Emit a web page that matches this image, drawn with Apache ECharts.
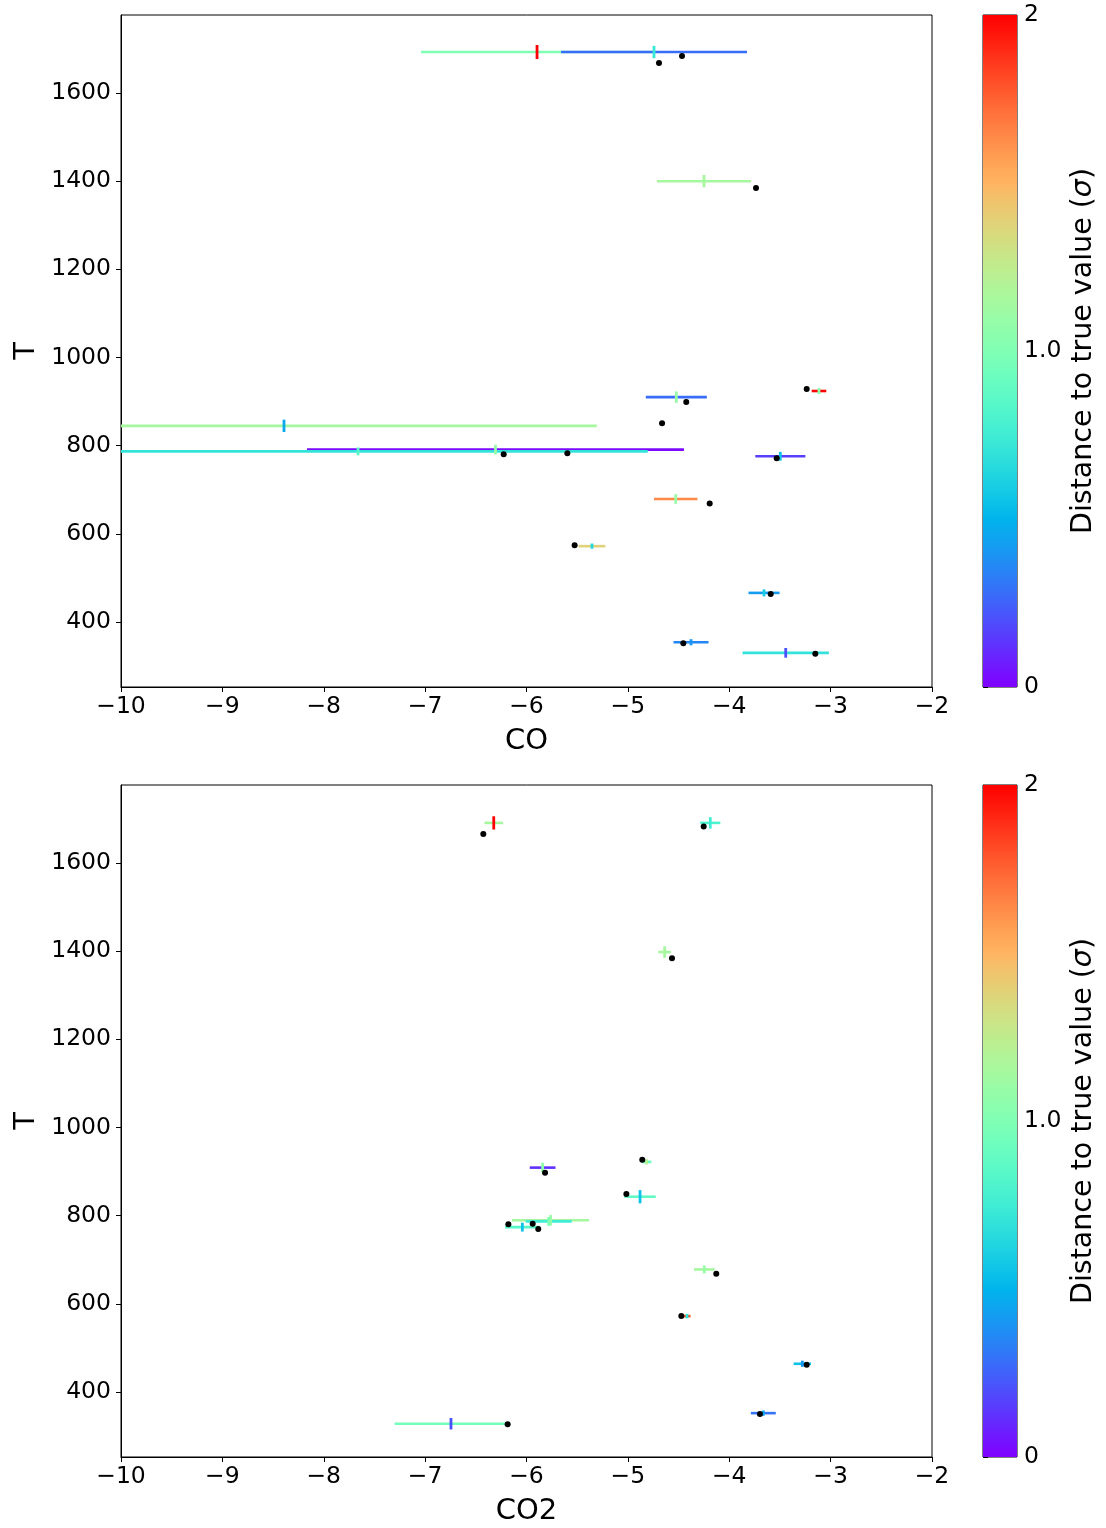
<!DOCTYPE html>
<html>
<head>
<meta charset="utf-8">
<script src="https://cdn.jsdelivr.net/npm/echarts@6/dist/echarts.min.js"></script>
<style>
html,body{margin:0;padding:0;background:#fff;}
#c{width:1106px;height:1528px;}
</style>
</head>
<body>
<div id="c"></div>
<script>
// ---------- data ----------
// CO panel
const coX      = [-5.896, -4.742, -4.249, -4.522, -3.115, -8.392, -6.306, -7.662, -3.496, -4.528, -5.354, -3.657, -4.377, -3.443];
const coXerr   = [1.144, 0.917, 0.464, 0.301, 0.072, 3.085, 1.859, 2.858, 0.247, 0.214, 0.132, 0.153, 0.173, 0.426];
const coT      = [1693, 1693, 1400, 910, 924, 845, 791, 787, 776, 679, 572, 466, 354, 330];
const coTerr   = [16, 14, 14, 13, 7, 14, 11, 9, 10, 11, 6, 8, 7, 11];
const coXDist  = [1.0, 0.28, 1.15, 0.28, 2.0, 1.15, 0.02, 0.7, 0.16, 1.64, 1.38, 0.42, 0.36, 0.7];
const coTDist  = [2.0, 0.72, 1.15, 1.1, 1.05, 0.46, 1.1, 0.85, 0.56, 1.1, 0.65, 0.6, 0.4, 0.2];
const coTrueX  = [-4.693, -4.466, -3.736, -4.424, -4.663, -3.236, -6.225, -5.597, -3.532, -4.193, -5.525, -3.591, -4.453, -3.151];
const coTrueT  = [1668, 1684, 1384.5, 899, 851, 928.5, 780.4, 782.7, 771.3, 669, 574, 463.5, 352, 328];

// CO2 panel
const co2X     = [-6.323, -4.187, -4.637, -5.841, -4.816, -4.880, -5.763, -5.781, -6.041, -4.246, -4.417, -3.279, -3.664, -6.745];
const co2Xerr  = [0.092, 0.099, 0.062, 0.127, 0.047, 0.155, 0.380, 0.227, 0.171, 0.102, 0.035, 0.086, 0.123, 0.556];
const co2T     = [1691, 1691, 1398, 909, 922, 843, 789.5, 787, 774, 678, 572, 464, 352, 328];
const co2Terr  = [15, 13, 13, 11, 6, 15, 12, 10, 10, 9, 5, 7, 6, 13];
const co2XDist = [1.15, 0.8, 1.15, 0.12, 0.9, 0.88, 1.15, 0.75, 0.85, 1.15, 1.8, 0.55, 0.3, 0.95];
const co2TDist = [2.0, 0.75, 1.15, 1.05, 1.2, 0.55, 1.1, 1.0, 0.55, 1.1, 0.7, 0.4, 0.45, 0.2];
const co2TrueX = [-6.426, -4.252, -4.565, -5.817, -4.858, -5.015, -6.179, -5.939, -5.884, -4.128, -4.473, -3.236, -3.697, -6.186];
const co2TrueT = [1665.8, 1683, 1383.8, 897.5, 927, 849, 780.4, 781.8, 769.8, 668.3, 572.4, 462, 350, 326.7];

const xTicksMin = -10, xTicksMax = -2;
const tTickValues = [400, 600, 800, 1000, 1200, 1400, 1600];
const cbarTicks = [0, 1, 2];

// ---------- colormap (matplotlib "rainbow") ----------
function rainbow(t) {
  const r = Math.min(1, Math.abs(2 * t - 0.5));
  const g = Math.sin(Math.PI * t);
  const b = Math.cos(Math.PI * t / 2);
  const h = v => Math.round(Math.max(0, Math.min(1, v)) * 255).toString(16).padStart(2, '0');
  return '#' + h(r) + h(g) + h(b);
}
const NSTOP = 41;
const rainbowColors = [];
for (let i = 0; i < NSTOP; i++) rainbowColors.push(rainbow(i / (NSTOP - 1)));

// ---------- helpers ----------
const FONT = 'DejaVu Sans';
const minus = v => String(v).replace('-', '\u2212');

function barData(xs, es, ts, ds) { return xs.map((x, i) => [x, es[i], ts[i], ds[i]]); }
function tickData(xs, es, ts, ds) { return xs.map((x, i) => [x, es[i], ts[i], ds[i]]); }
function dotData(xs, ts) { return xs.map((x, i) => [x, ts[i]]); }

function renderBar(params, api) {
  const x = api.value(0), e = api.value(1), t = api.value(2);
  const p1 = api.coord([x - e, t]), p2 = api.coord([x + e, t]);
  const cs = params.coordSys;
  const x1 = Math.max(p1[0], cs.x), x2 = Math.min(p2[0], cs.x + cs.width);
  if (x2 <= x1) return null;
  return { type: 'line', shape: { x1: x1, y1: p1[1], x2: x2, y2: p2[1] },
           style: { stroke: api.visual('color'), lineWidth: 2.6 } };
}
function renderTick(params, api) {
  const x = api.value(0), e = api.value(1), t = api.value(2);
  const p1 = api.coord([x, t - e]), p2 = api.coord([x, t + e]);
  return { type: 'line', shape: { x1: p1[0], y1: p1[1], x2: p2[0], y2: p2[1] },
           style: { stroke: api.visual('color'), lineWidth: 2.8 } };
}
function renderCbar(params, api) {
  const p0 = api.coord([0, 0]), p1 = api.coord([1, 2]);
  const stops = rainbowColors.map((c, i) => ({ offset: i / (NSTOP - 1), color: c }));
  return { type: 'rect', shape: { x: p0[0], y: p1[1], width: p1[0] - p0[0], height: p0[1] - p1[1] },
           style: { fill: new echarts.graphic.LinearGradient(0, 1, 0, 0, stops) } };
}

const gridTops = [15, 785];
const gridH = 672;
const grids = [];
const xAxes = [];
const yAxes = [];
const series = [];
const names = ['CO', 'CO2'];
const panels = [
  { x: coX, xe: coXerr, t: coT, te: coTerr, xd: coXDist, td: coTDist, tx: coTrueX, tt: coTrueT },
  { x: co2X, xe: co2Xerr, t: co2T, te: co2Terr, xd: co2XDist, td: co2TDist, tx: co2TrueX, tt: co2TrueT }
];
const mappedSeries = [];

panels.forEach((p, k) => {
  grids.push({ left: 121, top: gridTops[k], width: 811, height: gridH, show: true,
               containLabel: false, outerBoundsMode: 'none',
               borderColor: '#000', borderWidth: 1, backgroundColor: 'transparent' });
  xAxes.push({ type: 'value', gridIndex: k, min: xTicksMin, max: xTicksMax, interval: 1,
    name: names[k], nameLocation: 'middle', nameGap: 40, nameMoveOverlap: false,
    nameTextStyle: { fontFamily: FONT, fontSize: 29, color: '#000' },
    axisLine: { show: true, onZero: false, lineStyle: { color: '#000', width: 1 } },
    axisTick: { show: true, inside: false, length: 5, lineStyle: { color: '#000' } },
    axisLabel: { fontFamily: FONT, fontSize: 23.5, color: '#000', margin: 8, formatter: minus },
    splitLine: { show: false } });
  yAxes.push({ type: 'value', gridIndex: k, min: 252.5, max: 1777,
    name: 'T', nameLocation: 'middle', nameGap: 80, nameMoveOverlap: false,
    nameTextStyle: { fontFamily: FONT, fontSize: 29, color: '#000' },
    axisLine: { show: true, lineStyle: { color: '#000', width: 1 } },
    axisTick: { show: true, inside: false, length: 5, customValues: tTickValues, lineStyle: { color: '#000' } },
    axisLabel: { fontFamily: FONT, fontSize: 23.5, color: '#000', margin: 10, customValues: tTickValues,
                 formatter: v => String(v) },
    splitLine: { show: false } });
});

// colorbar grids/axes
[0, 1].forEach(k => {
  grids.push({ left: 983, top: gridTops[k], width: 34, height: gridH, show: true,
               containLabel: false, outerBoundsMode: 'none',
               borderColor: '#000', borderWidth: 1, backgroundColor: 'transparent' });
  xAxes.push({ type: 'value', gridIndex: 2 + k, min: 0, max: 1, show: false });
  yAxes.push({ type: 'value', gridIndex: 2 + k, min: 0, max: 2, interval: 1, position: 'right',
    name: 'Distance to true value ({i|σ})', nameLocation: 'middle', nameGap: 52,
    nameTextStyle: { fontFamily: FONT, fontSize: 28.5, color: '#000',
                     rich: { i: { fontFamily: FONT, fontSize: 28.5, fontStyle: 'italic', color: '#000' } } },
    axisLine: { show: false },
    axisTick: { show: true, inside: false, length: 5, lineStyle: { color: '#000' } },
    axisLabel: { fontFamily: FONT, fontSize: 23.5, color: '#000', margin: 7,
                 formatter: v => (v === 1 ? '1.0' : String(v)) },
    splitLine: { show: false } });
});

// error bars (horizontal) for both panels
panels.forEach((p, k) => {
  mappedSeries.push(series.length);
  series.push({ type: 'custom', xAxisIndex: k, yAxisIndex: k, renderItem: renderBar,
    encode: { x: 0, y: 2 }, data: barData(p.x, p.xe, p.t, p.xd), silent: true, z: 2 });
});
// T ticks (vertical)
panels.forEach((p, k) => {
  mappedSeries.push(series.length);
  series.push({ type: 'custom', xAxisIndex: k, yAxisIndex: k, renderItem: renderTick,
    encode: { x: 0, y: 2 }, data: tickData(p.x, p.te, p.t, p.td), silent: true, z: 3 });
});
// true values
panels.forEach((p, k) => {
  series.push({ type: 'scatter', xAxisIndex: k, yAxisIndex: k, symbol: 'circle', symbolSize: 6,
    itemStyle: { color: '#000', opacity: 1 }, data: dotData(p.tx, p.tt), silent: true, z: 4 });
});
// colorbars
[0, 1].forEach(k => {
  series.push({ type: 'custom', xAxisIndex: 2 + k, yAxisIndex: 2 + k, renderItem: renderCbar,
    data: [[0, 0]], silent: true, z: 1 });
});

const chart = echarts.init(document.getElementById('c'), null, { renderer: 'canvas' });
chart.setOption({
  animation: false,
  backgroundColor: '#fff',
  textStyle: { fontFamily: FONT },
  grid: grids,
  xAxis: xAxes,
  yAxis: yAxes,
  visualMap: [{ type: 'continuous', show: false, min: 0, max: 2, dimension: 3,
                seriesIndex: mappedSeries, inRange: { color: rainbowColors } }],
  series: series
});
</script>
</body>
</html>
